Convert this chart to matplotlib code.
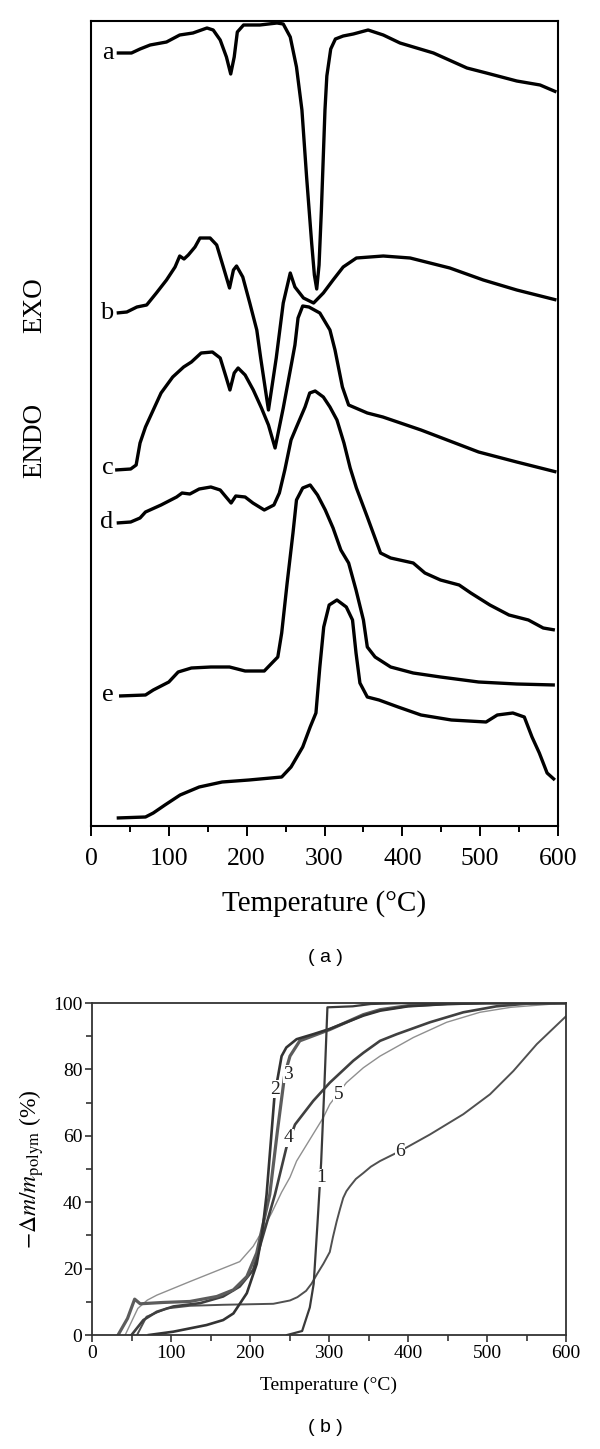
import matplotlib
matplotlib.use('Agg')
import matplotlib.pyplot as plt
from matplotlib.ticker import MultipleLocator

# ---------------- Panel (a): DSC curves (heat flow, arbitrary units, offset) ----------------
a_T = [33, 52, 63, 76, 97, 114, 131, 149, 157, 166, 174, 179.5, 184, 188, 196, 217, 239, 247, 256, 264,
       271, 277, 283.5, 287, 290, 293, 296, 300.6, 303, 308, 314, 324, 337, 356, 375.5, 397, 440, 483, 508, 547, 577, 598]
a_H = [773, 773, 777, 781, 784, 791, 793, 798, 796, 786, 769, 752, 769, 794, 801, 801, 803, 802, 789, 759,
       716, 649, 583, 551, 537, 561, 616, 716, 750, 777, 787, 790, 792, 796, 791, 783, 773, 758, 753, 745, 741, 734]

b_T = [33, 46, 59, 71.5, 84, 97, 108, 114, 119.5, 125, 133.6, 140, 153, 161.5, 170, 178, 183, 187, 195, 204,
       213, 218, 228, 238, 247, 256, 262, 273, 286, 298.5, 311, 324, 341, 375.5, 410, 461, 504, 547, 598]
b_H = [513, 514, 519, 521, 533, 546, 559, 570, 567, 571, 579, 588, 588, 581, 559, 538, 556, 560, 549, 523,
       496, 468, 416, 468, 523, 553, 539, 528, 523, 533, 546, 559, 568, 570, 568, 558, 546, 536, 526]

c_T = [31, 51, 58, 63, 70, 80, 90, 105, 119, 129, 141.5, 156, 166, 173.5, 178.5, 184, 189, 198, 208.5, 219,
       228, 236.5, 247, 258, 262, 266, 272, 280, 294, 307, 313.5, 323, 331, 355, 375, 424, 498, 547, 598]
c_H = [356, 357, 361, 383, 399, 416, 433, 449, 459, 464, 473, 474, 468, 449, 436, 453, 458, 451, 436, 418,
       401, 378, 418, 464, 481, 508, 520, 519, 513, 496, 476, 439, 421, 413, 409, 396, 374, 364, 354]

d_T = [33, 51, 63, 70, 90, 110, 117, 127, 139, 154, 166, 173.5, 180, 186, 198, 208, 222.6, 235, 242, 249,
       257, 264, 275, 281, 288, 298.5, 307, 316, 325, 333, 341, 355, 372, 385, 414, 429, 449, 473, 488, 512.5,
       537, 562, 581, 596]
d_H = [303, 304, 308, 314, 321, 329, 333, 332, 337, 339, 336, 329, 323, 330, 329, 323, 316, 321, 333, 356,
       386, 399, 419, 433, 435, 429, 419, 406, 383, 358, 338, 309, 273, 268, 263, 253, 246, 241, 233, 221,
       211, 206, 198, 196]

e_T = [36, 70, 80, 100, 112, 129, 154, 178, 198, 222.6, 232.5, 240, 245, 252, 259.5, 264, 272, 281.6, 291, 301,
       311, 321, 331, 340.5, 350, 355, 365, 385, 414, 449, 498, 547, 596]
e_H = [130, 131, 136, 144, 154, 158, 159, 159, 155, 155, 163, 169, 193, 243, 293, 326, 338, 341, 331, 316,
       298, 276, 263, 236, 206, 179, 169, 159, 153, 149, 144, 142, 141]

f_T = [33, 70, 80, 95, 114.5, 139, 168.5, 203, 245, 257, 272, 281.6, 289, 294, 299, 306, 316, 328, 336, 340.5,
       345.5, 355, 370, 394.6, 424, 463, 507.6, 522, 542, 556.7, 566.6, 576, 586, 596]
f_H = [8, 9, 13, 21, 31, 39, 44, 46, 49, 59, 79, 99, 113, 159, 199, 221, 226, 219, 206, 173,
       143, 129, 126, 119, 111, 106, 104, 111, 113, 109, 89, 73, 53, 46]

dsc_labels = ['a', 'b', 'c', 'd', 'e']
dsc_label_H = [773, 513, 358, 304, 131]

# ---------------- Panel (b): TGA curves, -dm/m_polym (%) ----------------
t1_T = [247, 266, 275.7, 280.6, 285.4, 290, 294, 298, 330, 353, 400, 600]
t1_V = [0, 1.2, 8.3, 15.4, 33.5, 51.7, 74, 98.7, 99, 99.7, 100, 100]

t2_T = [72, 103, 145, 166, 179, 196, 208.5, 215, 221, 231, 240, 246, 259, 280, 301, 343.5, 365, 400, 450, 500, 600]
t2_V = [0, 1, 3, 4.5, 6.5, 12.6, 21.4, 30, 42.3, 72, 84, 86.6, 89.1, 90.6, 92.2, 96.2, 97.7, 99, 99.7, 100, 100]

t3_T = [33, 45, 54, 61, 90, 124, 158, 179, 196, 208.5, 215, 225, 235, 244, 250.6, 263, 301, 343.5, 365, 400, 450, 500, 600]
t3_V = [0, 5, 10.8, 9.4, 9.8, 10.1, 11.6, 13.6, 17.6, 24.7, 31.7, 42.3, 62, 78.5, 84, 88.6, 92, 96.5, 98, 99.2, 99.8, 100, 100]

t4_T = [50, 65, 82, 103, 137, 166, 187, 204, 215, 231.6, 246, 257, 280, 301, 330.7, 343.5, 364.6, 385.7, 427.8,
        470, 512, 550, 600]
t4_V = [0, 4.5, 7, 8.6, 9.6, 11.6, 14.6, 19.6, 28.7, 42.3, 56.4, 63.4, 70.5, 76, 82.6, 85, 88.6, 90.6, 94.2,
        97.2, 99, 99.8, 100]

t5_T = [42, 50, 58, 70, 82, 124, 166, 187, 204, 212.7, 227.5, 240, 250.6, 259, 292.8, 301, 322, 343.5, 364.6,
        406.7, 449, 491, 530, 600]
t5_V = [0, 4, 8, 10.5, 12, 16.1, 20.1, 22.1, 26.7, 30.2, 36.8, 43, 47.5, 52.4, 65.5, 69.5, 76, 80.5, 84,
        89.6, 94.2, 97.2, 98.7, 100]

t6_T = [57, 69, 94.5, 124, 166, 229.5, 250.6, 260, 271, 278, 285, 293, 301, 305, 309.7, 314, 318, 322, 326.6,
        334, 343.5, 353, 364.6, 390, 427.8, 470, 503.8, 533.3, 563, 600]
t6_V = [0, 5.5, 8, 8.8, 9.1, 9.4, 10.4, 11.4, 13.3, 15.5, 18.4, 21.5, 25, 29.5, 34.2, 38, 41.3, 43.3, 44.8,
        47, 48.8, 50.7, 52.4, 55.4, 60.4, 66.5, 72.5, 79.5, 87.6, 96]

tga_labels = ['1', '2', '3', '4', '5', '6']
tga_label_T = [290.7, 231.6, 248.5, 248.5, 311.8, 389.9]
tga_label_V = [47.3, 74, 78.5, 59.4, 72.5, 55.4]

# ---------------- Figure ----------------
plt.rcParams['font.family'] = ['Liberation Serif', 'DejaVu Serif']
plt.rcParams['mathtext.fontset'] = 'stix'

W, H = 600, 1449
fig = plt.figure(figsize=(W / 100, H / 100), dpi=100)

# Panel (a)
axa = fig.add_axes([91 / W, 1 - 826 / H, 467 / W, 805 / H])
for T, Hh in [(a_T, a_H), (b_T, b_H), (c_T, c_H), (d_T, d_H), (e_T, e_H), (f_T, f_H)]:
    axa.plot(T, Hh, color='black', lw=2.4, solid_joinstyle='round', solid_capstyle='butt')
for lab, hv in zip(dsc_labels, dsc_label_H):
    axa.text(29, hv, lab, ha='right', va='center', fontsize=19)
axa.set_xlim(0, 600)
axa.set_ylim(0, 805)
axa.set_yticks([])
axa.xaxis.set_major_locator(MultipleLocator(100))
axa.xaxis.set_minor_locator(MultipleLocator(50))
axa.tick_params(axis='x', which='major', direction='out', length=7, width=1.4, labelsize=18.5, pad=9)
axa.tick_params(axis='x', which='minor', direction='out', length=4.5, width=1.4)
for s in axa.spines.values():
    s.set_linewidth(1.5)
axa.set_xlabel('Temperature (°C)', fontsize=21, labelpad=14)

fig.text(35 / W, 1 - 305 / H, 'EXO', rotation=90, ha='center', va='center', fontsize=19.5)
fig.text(35 / W, 1 - 440 / H, 'ENDO', rotation=90, ha='center', va='center', fontsize=19.5)
fig.text(325 / W, 1 - 957 / H, '( a )', ha='center', va='center', fontsize=14,
         family=['Liberation Sans', 'DejaVu Sans'])

# Panel (b)
axb = fig.add_axes([92 / W, 1 - 1335 / H, 474 / W, 332 / H])
styles = [
    (t5_T, t5_V, '#8f8f8f', 1.0),
    (t6_T, t6_V, '#505050', 1.4),
    (t4_T, t4_V, '#404040', 1.9),
    (t3_T, t3_V, '#5c5c5c', 2.3),
    (t2_T, t2_V, '#333333', 1.9),
    (t1_T, t1_V, '#3a3a3a', 1.6),
]
for T, V, c, lw in styles:
    axb.plot(T, V, color=c, lw=lw, solid_joinstyle='round')
for lab, tx, vy in zip(tga_labels, tga_label_T, tga_label_V):
    axb.text(tx, vy, lab, ha='center', va='center', fontsize=14, color='#222222',
             bbox=dict(facecolor='white', edgecolor='none', pad=0.3))
axb.set_xlim(0, 600)
axb.set_ylim(0, 100)
axb.xaxis.set_major_locator(MultipleLocator(100))
axb.xaxis.set_minor_locator(MultipleLocator(50))
axb.yaxis.set_major_locator(MultipleLocator(20))
axb.yaxis.set_minor_locator(MultipleLocator(10))
axb.tick_params(which='major', direction='out', length=5, width=1.2, labelsize=14, pad=2, color='#333333')
axb.tick_params(which='minor', direction='out', length=4, width=1.2, color='#333333')
for s in axb.spines.values():
    s.set_linewidth(1.3)
    s.set_color('#333333')
axb.set_xlabel('Temperature (°C)', fontsize=14, labelpad=11)
axb.set_ylabel(r'$-\Delta m/m_{\mathrm{polym}}$ (%)', fontsize=17, labelpad=5)

fig.text(325 / W, 1 - 1428 / H, '( b )', ha='center', va='center', fontsize=14,
         family=['Liberation Sans', 'DejaVu Sans'])

fig.savefig('out.png', dpi=100)
